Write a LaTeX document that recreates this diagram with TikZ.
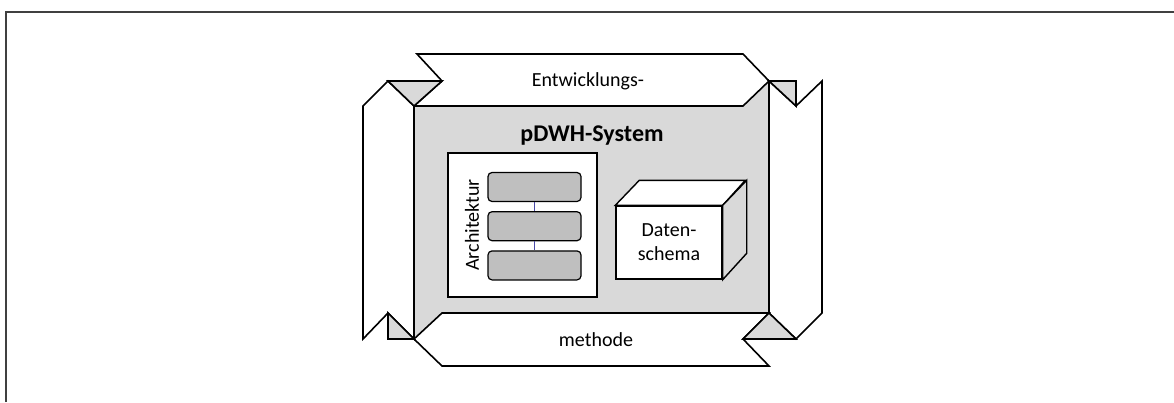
\documentclass[tikz,border=0pt]{standalone}
\usepackage{fontspec}
\setmainfont{Carlito}
\usepackage{xcolor}
\usepackage{tikz}
\usetikzlibrary{positioning,calc}

\definecolor{paneGray}{HTML}{D9D9D9}
\definecolor{layerGray}{HTML}{BFBFBF}
\definecolor{frameGray}{HTML}{404040}
\definecolor{linkBlue}{HTML}{4A4AA8}

\tikzset{
  strip/.style={draw=black, fill=white, line width=1.6pt, line join=miter},
  fold/.style={draw=black, fill=paneGray, line width=1.6pt, line join=miter},
  plaintext/.style={font=\fontsize{20}{24}\selectfont, inner sep=0pt},
  layer/.style={draw=black, fill=layerGray, rounded corners=4pt, line width=1.2pt,
    minimum width=93pt, minimum height=29pt, inner sep=0pt},
}

\begin{document}
\begin{tikzpicture}[x=1pt, y=-1pt]
\useasboundingbox (0,0) rectangle (1174,402);

% Frame
\draw[frameGray, line width=1.5pt] (6,402) -- (6,12) -- (1174,12);

% System pane
\filldraw[fill=paneGray, line width=1.6pt] (414,81) rectangle (769,339);

% Strips (Entwicklungsmethode)
\filldraw[strip] (417,54) -- (743,54) -- (769,81) -- (743,106) -- (414,106) -- (442,81) -- cycle;
\filldraw[strip] (363,106) -- (388,81) -- (414,106) -- (414,339) -- (388,313) -- (363,339) -- cycle;
\filldraw[strip] (769,81) -- (796,106) -- (822,81) -- (822,313) -- (796,339) -- (769,313) -- cycle;
\filldraw[strip] (414,339) -- (442,313) -- (769,313) -- (743,339) -- (769,366) -- (442,366) -- cycle;

% Folds
\filldraw[fold] (388,81) -- (442,81) -- (414,106) -- cycle;
\filldraw[fold] (769,81) -- (796,81) -- (796,106) -- cycle;
\filldraw[fold] (388,313) -- (388,339) -- (414,339) -- cycle;
\filldraw[fold] (769,313) -- (743,339) -- (796,339) -- cycle;

% Strip labels
\node[plaintext] (entw) at (588,81) {Entwicklungs-};
\node[plaintext] (meth) at (596,340) {methode};

% Title
\node[font=\fontsize{24}{28}\selectfont\bfseries, inner sep=0pt] (sys) at (592,136) {pDWH-System};

% Architecture
\node[draw, fill=white, line width=1.4pt, minimum width=149pt, minimum height=144pt, inner sep=0pt] (arch) at (522.5,225) {};
\node[plaintext, rotate=90] (archlbl) at (472,225) {Architektur};
\node[layer] (layer1) at (534.5,187) {};
\node[layer, below=9pt of layer1] (layer2) {};
\node[layer, below=9pt of layer2] (layer3) {};
\draw[linkBlue, line width=0.8pt] (layer1) -- (layer2);
\draw[linkBlue, line width=0.8pt] (layer2) -- (layer3);

% Data schema cube
\node[draw, fill=white, line width=1.4pt, minimum width=106pt, minimum height=73pt, inner sep=0pt,
  plaintext, align=center] (schema) at (669,242.5) {Daten-\\schema};
\filldraw[fill=white, line width=1.4pt, line join=miter] (schema.north west) -- ++(24,-25) -- ++(106,0) -- (schema.north east) -- cycle;
\filldraw[fill=paneGray, line width=1.4pt, line join=miter] (schema.north east) -- ++(24,-25) -- ++(0,73) -- (schema.south east) -- cycle;

\end{tikzpicture}
\end{document}
